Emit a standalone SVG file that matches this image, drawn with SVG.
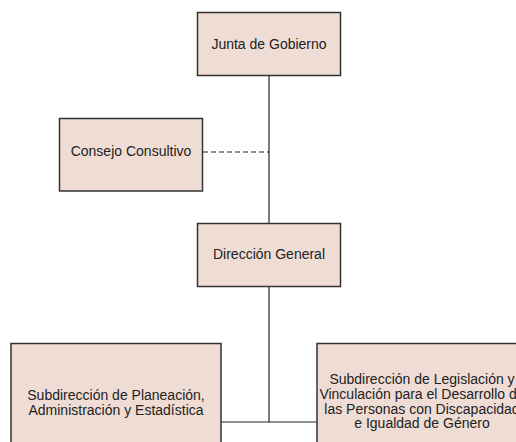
<svg xmlns="http://www.w3.org/2000/svg" width="516" height="442" viewBox="0 0 516 442">
<style>
.box{fill:#EFDDD5;stroke:#333;stroke-width:1.5}
.t{font-family:"Liberation Sans",Arial,sans-serif;font-size:14px;fill:#222;text-anchor:middle}
.c{fill:none;stroke:#222;stroke-width:1.2}
.d{stroke-dasharray:5,3}
</style>
<rect width="516" height="442" fill="#fff"/>
<g id="connectors">
<line class="c" x1="269" y1="75" x2="269" y2="223"/>
<line class="c d" x1="203" y1="152" x2="269" y2="152"/>
<line class="c" x1="269" y1="286" x2="269" y2="422"/>
<line class="c" x1="221" y1="422" x2="317" y2="422"/>
</g>
<g id="junta">
<rect class="box" x="197.5" y="12.5" width="143" height="63"/>
<text class="t" x="269" y="48.7">Junta de Gobierno</text>
</g>
<g id="consejo">
<rect class="box" x="59.5" y="118.5" width="143" height="72.5"/>
<text class="t" x="131" y="156">Consejo Consultivo</text>
</g>
<g id="direccion">
<rect class="box" x="197.5" y="223.5" width="143" height="63"/>
<text class="t" x="269" y="258.5">Dirección General</text>
</g>
<g id="planeacion">
<rect class="box" x="11" y="343.5" width="210" height="118"/>
<text class="t" x="116" y="400">Subdirección de Planeación,</text>
<text class="t" x="116" y="414.7">Administración y Estadística</text>
</g>
<g id="legislacion">
<rect class="box" x="317" y="343.5" width="210" height="118"/>
<text class="t" x="422" y="384.3">Subdirección de Legislación y</text>
<text class="t" x="422" y="399">Vinculación para el Desarrollo de</text>
<text class="t" x="422" y="413.7">las Personas con Discapacidad</text>
<text class="t" x="422" y="428.4">e Igualdad de Género</text>
</g>
</svg>
